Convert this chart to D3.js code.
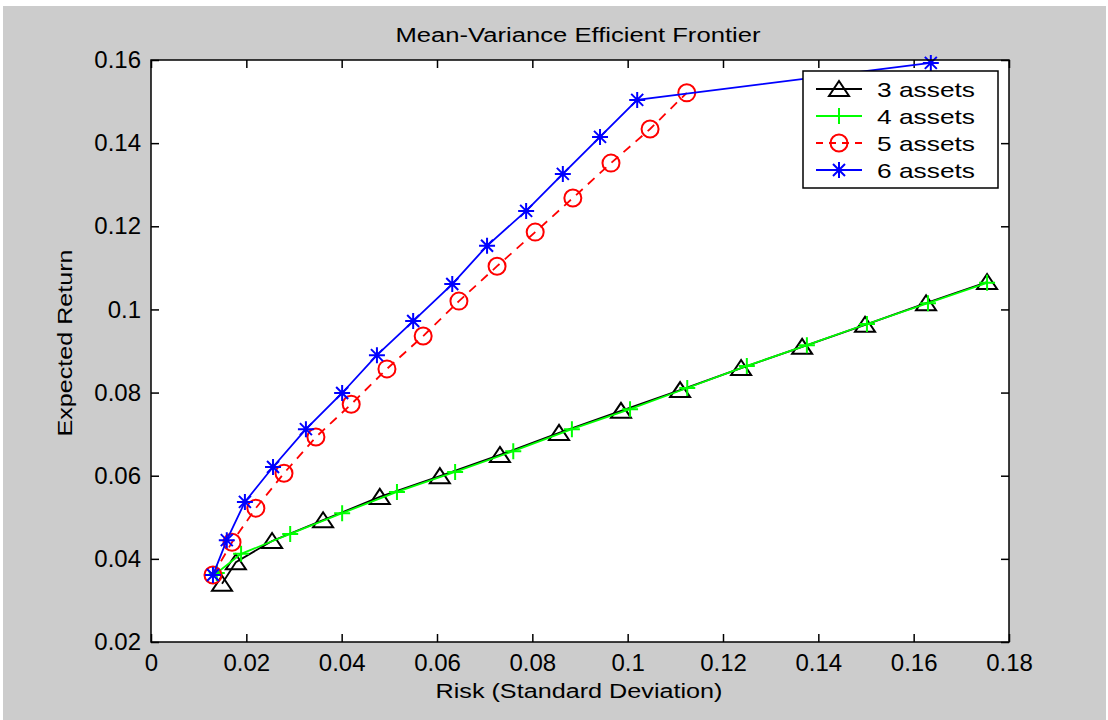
<!DOCTYPE html>
<html>
<head>
<meta charset="utf-8">
<script src="https://cdn.jsdelivr.net/npm/d3@7"></script>
<style>
  body { margin: 0; background: #ffffff; }
  text { font-family: "Liberation Sans", Arial, sans-serif; fill: #000; }
</style>
</head>
<body>
<div id="chart"></div>
<script>
// values
var risk3 = [0.0149, 0.0178, 0.0254, 0.0361, 0.0480, 0.0606, 0.0732, 0.0856, 0.0986, 0.1110, 0.1238, 0.1366, 0.1498, 0.1626, 0.1754];
var ret3  = [0.0340, 0.0392, 0.0443, 0.0493, 0.0549, 0.0599, 0.0650, 0.0703, 0.0756, 0.0806, 0.0859, 0.0910, 0.0963, 0.1015, 0.1066];

var risk4 = [0.0138, 0.0189, 0.0292, 0.0401, 0.0516, 0.0638, 0.0760, 0.0883, 0.1005, 0.1125, 0.1250, 0.1376, 0.1502, 0.1630, 0.1754];
var ret4  = [0.0366, 0.0412, 0.0460, 0.0510, 0.0561, 0.0609, 0.0659, 0.0712, 0.0760, 0.0811, 0.0864, 0.0914, 0.0965, 0.1015, 0.1064];

var risk5 = [0.0130, 0.0170, 0.0220, 0.0279, 0.0346, 0.0420, 0.0495, 0.0571, 0.0646, 0.0726, 0.0806, 0.0885, 0.0965, 0.1047, 0.1124];
var ret5  = [0.0361, 0.0440, 0.0522, 0.0606, 0.0693, 0.0772, 0.0857, 0.0936, 0.1020, 0.1104, 0.1186, 0.1268, 0.1352, 0.1434, 0.1521];

var risk6 = [0.0130, 0.0159, 0.0197, 0.0256, 0.0325, 0.0401, 0.0474, 0.0550, 0.0632, 0.0705, 0.0787, 0.0864, 0.0942, 0.1020, 0.1636];
var ret6  = [0.0361, 0.0445, 0.0537, 0.0621, 0.0712, 0.0799, 0.0890, 0.0972, 0.1061, 0.1153, 0.1237, 0.1326, 0.1415, 0.1504, 0.1593];

var seriesNames = ["3 assets", "4 assets", "5 assets", "6 assets"];
var xTicks = [0, 0.02, 0.04, 0.06, 0.08, 0.1, 0.12, 0.14, 0.16, 0.18];
var yTicks = [0.02, 0.04, 0.06, 0.08, 0.1, 0.12, 0.14, 0.16];

(function () {

    var width = 1108, height = 720;
    var left = 151, right = 1009, top = 60, bottom = 642;

    var x = d3.scaleLinear().domain([0, 0.18]).range([left, right]);
    var y = d3.scaleLinear().domain([0.02, 0.16]).range([bottom, top]);

    function zip(xs, ys) {
        return xs.map(function (v, i) { return [v, ys[i]]; });
    }

    var series = [
        { name: seriesNames[0], pts: zip(risk3, ret3), color: "#000000", dash: null, marker: "triangle" },
        { name: seriesNames[1], pts: zip(risk4, ret4), color: "#00ff00", dash: null, marker: "plus" },
        { name: seriesNames[2], pts: zip(risk5, ret5), color: "#ff0000", dash: "9,7", marker: "circle" },
        { name: seriesNames[3], pts: zip(risk6, ret6), color: "#0000ff", dash: null, marker: "star" }
    ];

    var svg = d3.select("#chart").append("svg")
        .attr("width", width)
        .attr("height", height);

    // figure background (thin white edge at top/left like the screenshot)
    svg.append("rect").attr("x", 3).attr("y", 6)
        .attr("width", width - 5).attr("height", height - 6)
        .attr("fill", "#cccccc");

    svg.append("rect").attr("x", left).attr("y", top)
        .attr("width", right - left).attr("height", bottom - top)
        .attr("fill", "#ffffff");

    // axes with inward ticks on all four sides
    var tk = 8;
    var axB = d3.axisBottom(x).tickValues(xTicks).tickSize(-tk).tickPadding(12).tickFormat(d3.format("~g"));
    var axT = d3.axisTop(x).tickValues(xTicks).tickSize(-tk).tickFormat("");
    var axL = d3.axisLeft(y).tickValues(yTicks).tickSize(-tk).tickPadding(10).tickFormat(d3.format("~g"));
    var axR = d3.axisRight(y).tickValues(yTicks).tickSize(-tk).tickFormat("");

    function styleAxis(g) {
        g.select(".domain").remove();
        g.selectAll(".tick line").attr("stroke", "#000").attr("stroke-width", 1.5);
        g.selectAll(".tick text").style("font-size", "24px").attr("fill", "#000");
    }

    svg.append("g").attr("transform", "translate(0," + bottom + ")").call(axB).call(styleAxis);
    svg.append("g").attr("transform", "translate(0," + top + ")").call(axT).call(styleAxis);
    svg.append("g").attr("transform", "translate(" + left + ",0)").call(axL).call(styleAxis);
    svg.append("g").attr("transform", "translate(" + right + ",0)").call(axR).call(styleAxis);

    var clip = svg.append("defs").append("clipPath").attr("id", "plotclip");
    clip.append("rect").attr("x", left).attr("y", top - 12)
        .attr("width", right - left + 12).attr("height", bottom - top + 12);

    var line = d3.line()
        .x(function (d) { return x(d[0]); })
        .y(function (d) { return y(d[1]); });

    function drawMarker(g, type, color) {
        if (type === "triangle") {
            g.append("path").attr("d", "M0,-8L10,7L-10,7Z")
                .attr("fill", "none").attr("stroke", color).attr("stroke-width", 2);
        } else if (type === "plus") {
            g.append("path").attr("d", "M-8,0H8M0,-8V8")
                .attr("stroke", color).attr("stroke-width", 2);
        } else if (type === "circle") {
            g.append("circle").attr("r", 8.5)
                .attr("fill", "none").attr("stroke", color).attr("stroke-width", 2);
        } else if (type === "star") {
            g.append("path").attr("d", "M-8,0H8M0,-8V8M-6,-6L6,6M-6,6L6,-6")
                .attr("stroke", color).attr("stroke-width", 2);
        }
    }

    var plot = svg.append("g").attr("clip-path", "url(#plotclip)");

    series.forEach(function (s) {
        plot.append("path")
            .datum(s.pts)
            .attr("d", line)
            .attr("fill", "none")
            .attr("stroke", s.color)
            .attr("stroke-width", 1.8)
            .attr("stroke-dasharray", s.dash);

        plot.selectAll(null)
            .data(s.pts)
            .enter()
            .append("g")
            .attr("transform", function (d) { return "translate(" + x(d[0]) + "," + y(d[1]) + ")"; })
            .each(function () { drawMarker(d3.select(this), s.marker, s.color); });
    });

    // axes box
    svg.append("rect").attr("x", left).attr("y", top)
        .attr("width", right - left).attr("height", bottom - top)
        .attr("fill", "none").attr("stroke", "#000").attr("stroke-width", 1.5);

    // legend
    var lg = svg.append("g");
    lg.append("rect").attr("x", 803).attr("y", 71).attr("width", 195).attr("height", 117)
        .attr("fill", "#ffffff").attr("stroke", "#000").attr("stroke-width", 1.5);
    var rowY = [89, 116, 143, 170];
    series.forEach(function (s, i) {
        var row = lg.append("g").attr("transform", "translate(0," + rowY[i] + ")");
        row.append("line").attr("x1", 816).attr("x2", 862).attr("y1", 0).attr("y2", 0)
            .attr("stroke", s.color).attr("stroke-width", 1.8)
            .attr("stroke-dasharray", s.dash ? "7,6" : null);
        drawMarker(row.append("g").attr("transform", "translate(839,0)"), s.marker, s.color);
        row.append("text").attr("x", 877).attr("y", 8)
            .attr("textLength", 98).attr("lengthAdjust", "spacingAndGlyphs")
            .style("font-size", "21px")
            .text(s.name);
    });

    // title and labels
    svg.append("text").attr("x", 578).attr("y", 42)
        .attr("text-anchor", "middle")
        .attr("textLength", 365).attr("lengthAdjust", "spacingAndGlyphs")
        .style("font-size", "20px")
        .text("Mean-Variance Efficient Frontier");

    svg.append("text").attr("x", 579).attr("y", 698)
        .attr("text-anchor", "middle")
        .attr("textLength", 287).attr("lengthAdjust", "spacingAndGlyphs")
        .style("font-size", "20px")
        .text("Risk (Standard Deviation)");

    svg.append("text")
        .attr("transform", "translate(72,343) rotate(-90)")
        .attr("text-anchor", "middle")
        .attr("textLength", 187).attr("lengthAdjust", "spacingAndGlyphs")
        .style("font-size", "20px")
        .text("Expected Return");
})();
</script>
</body>
</html>
